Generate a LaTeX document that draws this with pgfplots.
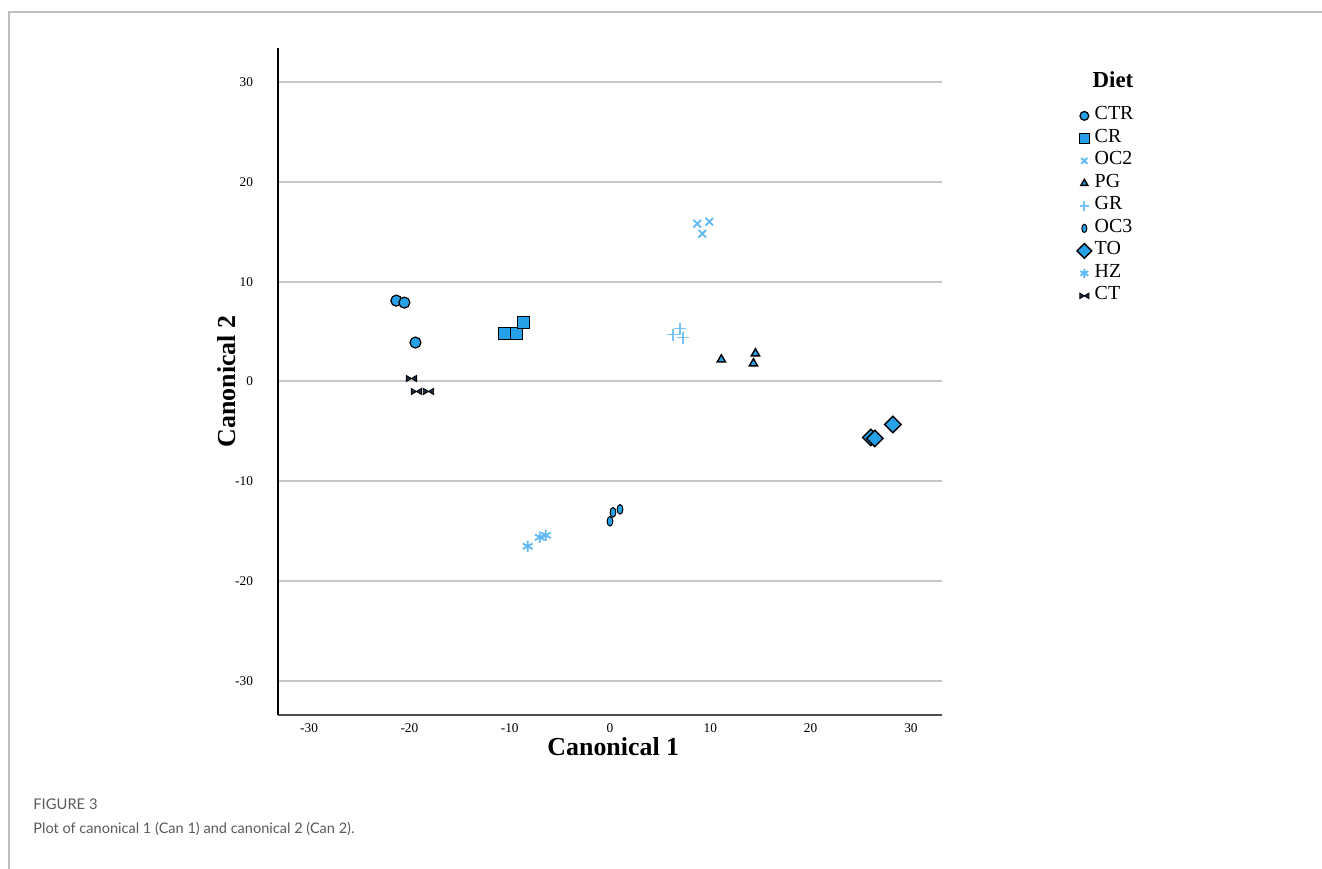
\documentclass[border=0pt]{standalone}
\usepackage{fontspec}
\setmainfont{Liberation Serif}
\newfontfamily\capfont{Lato}
\usepackage{pgfplots}
\pgfplotsset{compat=1.18}
\definecolor{mblue}{RGB}{38,160,230}
\definecolor{lblue}{RGB}{95,185,245}
\definecolor{navy}{RGB}{28,43,69}
\definecolor{gridc}{RGB}{200,200,200}
\definecolor{framec}{RGB}{190,190,190}
\definecolor{capc}{RGB}{90,90,90}
\pgfdeclareplotmark{bowtie}{%
  \pgfpathmoveto{\pgfqpoint{-\pgfplotmarksize}{0.6\pgfplotmarksize}}%
  \pgfpathlineto{\pgfqpoint{0pt}{0pt}}%
  \pgfpathlineto{\pgfqpoint{-\pgfplotmarksize}{-0.6\pgfplotmarksize}}%
  \pgfpathclose
  \pgfpathmoveto{\pgfqpoint{\pgfplotmarksize}{0.6\pgfplotmarksize}}%
  \pgfpathlineto{\pgfqpoint{0pt}{0pt}}%
  \pgfpathlineto{\pgfqpoint{\pgfplotmarksize}{-0.6\pgfplotmarksize}}%
  \pgfpathclose
  \pgfusepathqfillstroke}
\pgfplotsset{
  sCTR/.style={only marks, mark=*, mark options={fill=mblue, draw=black, line width=0.6bp}},
  sCR/.style={only marks, mark=square*, mark options={fill=mblue, draw=black, line width=0.6bp}},
  sOCtwo/.style={only marks, mark=x, mark options={draw=lblue, line width=0.9bp}},
  sPG/.style={only marks, mark=triangle*, mark options={fill=mblue, draw=black, line width=0.7bp}},
  sGR/.style={only marks, mark=+, mark options={draw=lblue!85, line width=0.9bp}},
  sOCthree/.style={only marks, mark=*, mark options={fill=mblue, draw=black, line width=0.5bp, xscale=0.6}},
  sTO/.style={only marks, mark=square*, mark options={fill=mblue, draw=black, line width=0.7bp, rotate=45}},
  sHZ/.style={only marks, mark=asterisk, mark options={draw=lblue, line width=0.9bp}},
  sCT/.style={only marks, mark=bowtie, mark options={fill=navy, draw=black, line width=0.4bp}},
}
\begin{document}
\begin{tikzpicture}[x=1bp,y=1bp]
\useasboundingbox (0,0) rectangle (661,-434.5);
\draw[framec, line width=0.8bp] (4.5,-434.5) -- (4.5,-6) -- (661,-6);
\begin{axis}[
  at={(139bp,-357.5bp)}, anchor=south west,
  scale only axis, width=332bp, height=333.5bp,
  xmin=-33.1, xmax=33.1, ymin=-33.4, ymax=33.4,
  axis x line*=bottom, axis y line*=left,
  x axis line style={draw=black!70, line width=0.8bp},
  y axis line style={draw=black, line width=0.9bp},
  xtick={-30,-20,...,30}, ytick={-30,-20,...,30},
  major tick length=0pt,
  ymajorgrids, grid style={gridc, line width=1bp},
  /pgf/number format/assume math mode=true,
  ticklabel style={font=\fontsize{6.7}{7}\selectfont},
  yticklabel style={xshift=-9bp},
  xticklabel style={yshift=-1bp},
  xlabel={\textbf{Canonical 1}}, ylabel={\textbf{Canonical 2}},
  label style={font=\fontsize{13}{15}\selectfont},
  xlabel style={at={(axis description cs:0.505,-0.048)}, anchor=center},
  ylabel style={at={(axis description cs:-0.078,0.5)}, anchor=center},
  legend style={at={(1.2033,0.9151)}, anchor=north west, draw=none, fill=none,
    inner sep=0pt, outer sep=0pt, row sep=0pt,
    font=\fontsize{10}{11}\selectfont,
    nodes={inner sep=0pt, text height=7.5bp, text depth=3.75bp}},
  legend cell align=left,
  legend image code/.code={\draw[mark repeat=2,mark phase=2,#1] plot coordinates {(0bp,0bp)(3bp,0bp)(6bp,0bp)};},
  /tikz/every odd column/.append style={column sep=1.5bp},
]
\addplot[sCTR, mark size=2.75bp, forget plot] coordinates {(-21.3,8.1) (-20.5,7.9) (-19.4,3.9)};
\addplot[sCR, mark size=3bp, forget plot] coordinates {(-10.5,4.8) (-9.3,4.8) (-8.6,5.9)};
\addplot[sOCtwo, mark size=2.7bp, forget plot] coordinates {(8.7,15.8) (9.9,16.0) (9.2,14.8)};
\addplot[sPG, mark size=2.4bp, forget plot] coordinates {(11.1,2.2) (14.5,2.8) (14.3,1.8)};
\addplot[sGR, mark size=3bp, forget plot] coordinates {(7.0,5.3) (6.3,4.7) (7.3,4.4)};
\addplot[sOCthree, mark size=2.4bp, forget plot] coordinates {(0.0,-14.0) (0.3,-13.1) (1.0,-12.8)};
\addplot[sTO, mark size=2.9bp, forget plot] coordinates {(26.0,-5.6) (26.4,-5.7) (28.2,-4.3)};
\addplot[sHZ, mark size=2.8bp, forget plot] coordinates {(-8.2,-16.5) (-7.0,-15.6) (-6.4,-15.4)};
\addplot[sCT, mark size=2.6bp, forget plot] coordinates {(-19.8,0.3) (-19.3,-1.0) (-18.1,-1.0)};
\addlegendimage{sCTR, mark size=2.2bp}\addlegendentry{CTR}
\addlegendimage{sCR, mark size=2.4bp}\addlegendentry{CR}
\addlegendimage{sOCtwo, mark size=2.1bp}\addlegendentry{OC2}
\addlegendimage{sPG, mark size=2.0bp}\addlegendentry{PG}
\addlegendimage{sGR, mark size=2.4bp}\addlegendentry{GR}
\addlegendimage{sOCthree, mark size=2.1bp}\addlegendentry{OC3}
\addlegendimage{sTO, mark size=2.6bp}\addlegendentry{TO}
\addlegendimage{sHZ, mark size=2.3bp}\addlegendentry{HZ}
\addlegendimage{sCT, mark size=2.3bp}\addlegendentry{CT}
\end{axis}
\node[font=\fontsize{11.5}{13}\selectfont\bfseries, anchor=center] at (556.5,-40) {Diet};
\node[font=\capfont\fontsize{7.4}{8}\selectfont, text=capc, anchor=base west, inner sep=0pt] at (16.5,-404.5) {FIGURE 3};
\node[font=\capfont\fontsize{7.3}{9}\selectfont, text=capc, anchor=base west, inner sep=0pt] at (16.5,-416.5) {Plot of canonical 1 (Can 1) and canonical 2 (Can 2).};
\end{tikzpicture}
\end{document}
